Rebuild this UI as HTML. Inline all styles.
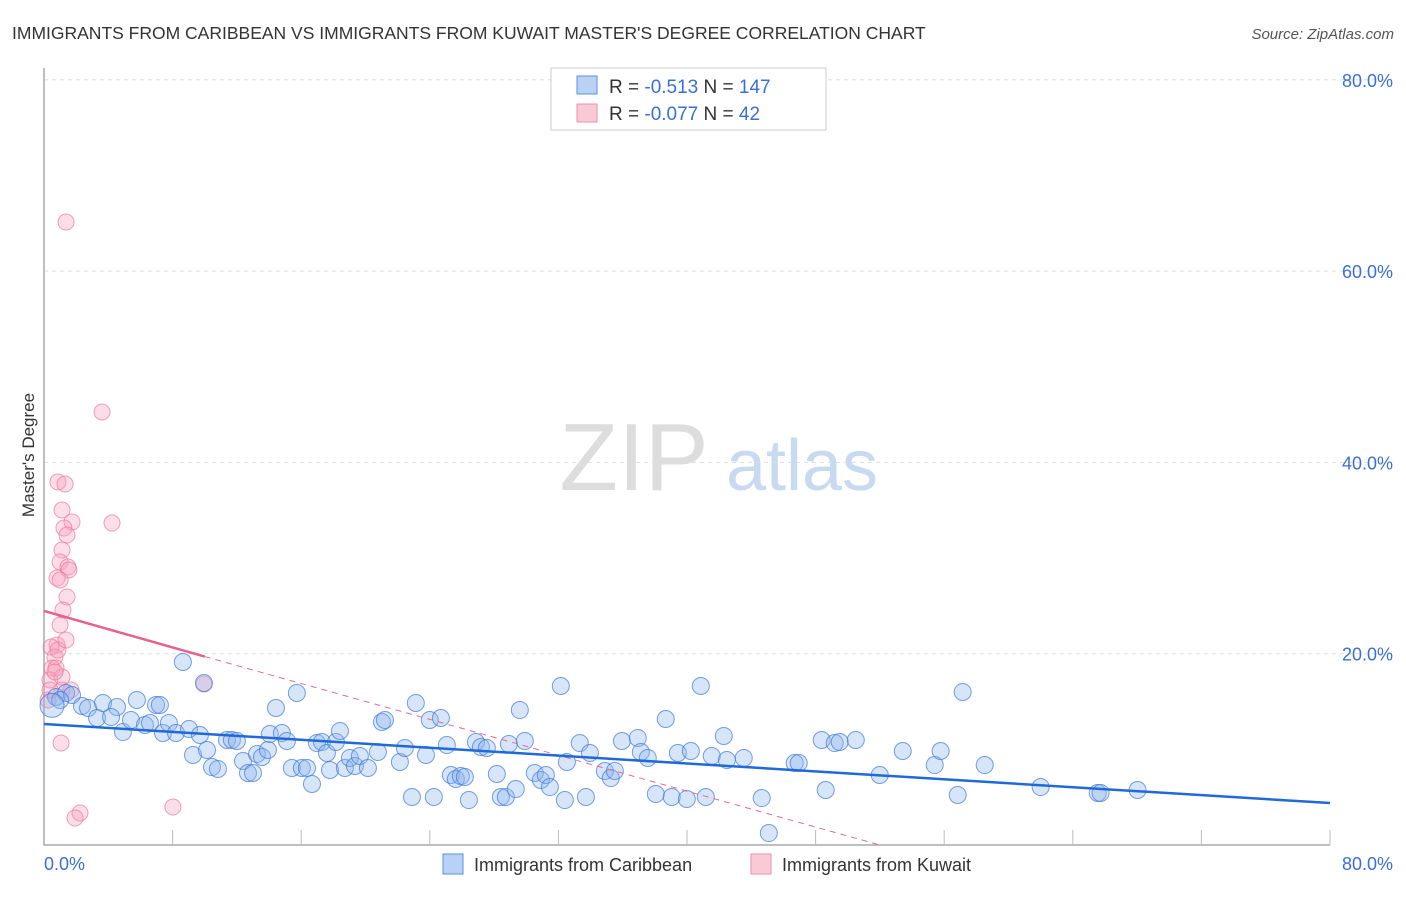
<!DOCTYPE html>
<html><head><meta charset="utf-8"><style>
body{margin:0;background:#fff;font-family:"Liberation Sans",sans-serif}
svg text{font-family:"Liberation Sans",sans-serif}
</style></head><body>
<svg id="chart" width="1406" height="892" viewBox="0 0 1406 892" xmlns="http://www.w3.org/2000/svg">
<text x="12" y="39" font-size="17.5" fill="#333">IMMIGRANTS FROM CARIBBEAN VS IMMIGRANTS FROM KUWAIT MASTER'S DEGREE CORRELATION CHART</text>
<text x="1394" y="39" font-size="15" fill="#555" font-style="italic" text-anchor="end">Source: ZipAtlas.com</text>
<g>
<text x="634" y="490" font-size="96" fill="#ddd" font-family="Liberation Serif,serif" text-anchor="middle">ZIP</text>
<text x="802" y="490" font-size="72" fill="#c8d9f2" text-anchor="middle">atlas</text>
</g>
<g id="grid"></g>
<g id="axes"></g>
<text transform="translate(34,455) rotate(-90)" font-size="17" fill="#333" text-anchor="middle">Master's Degree</text>
<g id="marks"></g>
<g>
<rect x="551" y="68" width="275" height="62" fill="#fff" stroke="#ccc"/>
<rect x="577" y="76" width="20" height="18" fill="#b9d1f5" stroke="#5b8fe0"/>
<rect x="577" y="104" width="20" height="18" fill="#f9c9d6" stroke="#ef8fab"/>
<text x="609" y="93" font-size="19" fill="#333">R = <tspan fill="#3a6fd8">-0.513</tspan>   N = <tspan fill="#3a6fd8">147</tspan></text>
<text x="609" y="120" font-size="19" fill="#333">R = <tspan fill="#3a6fd8">-0.077</tspan>   N = <tspan fill="#3a6fd8"> 42</tspan></text>
</g>
<g>
<rect x="443" y="854" width="20" height="20" fill="#b9d1f5" stroke="#5b8fe0"/>
<text x="474" y="871" font-size="18" fill="#333">Immigrants from Caribbean</text>
<rect x="751" y="854" width="20" height="20" fill="#f9c9d6" stroke="#ef8fab"/>
<text x="782" y="871" font-size="18" fill="#333">Immigrants from Kuwait</text>
</g>
</svg>
<script>
const blueX=[8.64,9.95,0.75,1.37,1.74,1.0,2.36,2.74,3.3,3.67,4.54,4.17,4.91,5.41,5.78,6.28,6.59,6.97,7.21,7.4,7.77,8.21,9.02,9.27,9.7,10.14,10.45,10.82,11.38,11.69,12.0,12.38,12.69,13.0,13.25,13.56,13.93,14.05,14.43,14.8,15.11,15.42,15.73,16.04,16.36,16.67,16.98,17.29,17.6,17.79,18.16,18.41,18.72,19.03,19.34,19.65,20.15,20.77,21.02,21.21,22.14,22.45,22.89,23.13,23.76,24.0,24.25,24.69,25.06,25.31,25.62,25.93,26.18,26.43,26.87,27.18,27.55,28.17,28.42,28.73,28.92,29.35,29.6,29.91,30.53,30.91,31.22,31.47,32.15,32.4,32.53,33.33,33.71,33.96,34.89,35.26,35.51,35.95,36.94,37.13,37.56,38.06,38.68,39.05,39.43,39.99,40.24,40.86,41.17,41.54,42.29,42.48,43.53,44.65,45.09,46.7,46.95,48.38,48.63,49.19,49.5,50.5,51.99,53.42,55.41,55.78,56.84,57.15,58.52,62.0,65.55,65.73,68.03,0.5];
const blueY=[19.13,16.94,15.47,15.89,15.68,15.16,14.53,14.32,13.28,14.85,14.43,13.38,11.81,13.07,15.16,12.55,12.75,14.64,14.64,11.71,12.75,11.71,12.13,9.41,11.5,9.93,8.15,7.95,10.98,10.98,10.87,8.78,7.53,7.53,9.51,9.2,9.93,11.6,14.32,11.71,10.87,8.05,15.89,8.05,8.05,6.38,10.66,10.77,9.62,7.84,10.77,11.92,8.05,9.1,8.26,9.3,8.05,9.72,12.86,13.07,8.68,10.14,5.02,14.85,9.41,13.07,5.02,13.28,10.45,7.32,6.9,7.21,7.11,4.7,10.77,10.25,10.14,7.42,5.02,5.02,10.56,5.85,14.11,10.87,7.53,6.8,7.32,6.06,16.62,4.7,8.68,10.66,5.02,9.62,7.74,7.0,7.74,10.87,11.19,9.72,9.1,5.33,13.17,5.02,9.62,4.81,9.83,16.62,5.02,9.3,11.4,8.89,9.1,4.91,1.25,8.57,8.57,10.98,5.75,10.66,10.77,10.98,7.32,9.83,8.36,9.83,5.23,16.0,8.36,6.06,5.44,5.44,5.75,14.6];
const pinkX=[1.37,3.61,0.87,1.31,4.23,1.12,1.74,1.24,1.43,1.12,1.0,1.49,1.55,0.81,1.0,1.43,1.18,1.0,0.81,0.44,0.68,0.87,0.5,0.75,0.37,1.12,0.25,0.68,1.12,0.37,1.68,9.95,1.06,2.24,1.93,8.02,1.37];
const pinkY=[65.13,45.27,37.95,37.74,33.66,35.02,33.77,33.14,32.41,30.84,29.59,29.06,28.75,27.91,27.7,25.93,24.57,23.0,20.91,20.7,19.66,20.39,18.5,18.5,17.25,17.56,15.16,18.09,16.2,16.2,16.2,16.83,10.66,3.35,2.82,3.97,21.43];
const blueTrend=[12.65,4.39];
const pinkTrend=[24.47,19.7,10,52];
const yTicks=[20,40,60,80];
const xTickLabels=["0.0%","80.0%"];
const NS="http://www.w3.org/2000/svg";
const X=v=>44+v*16.075, Y=v=>845-v*9.565;
function mk(t,a,p){const e=document.createElementNS(NS,t);for(const k in a)e.setAttribute(k,a[k]);p.appendChild(e);return e;}
const grid=document.getElementById('grid'),axes=document.getElementById('axes'),marks=document.getElementById('marks');
yTicks.forEach(v=>{
 const l=mk('line',{x1:44,x2:1392,y1:Y(v),y2:Y(v),stroke:'#ddd','stroke-dasharray':'4,4'},grid);
 
 
 const t=mk('text',{x:1393,y:Y(v)+7,'font-size':18,fill:'#3a6fd8','text-anchor':'end'},axes);
 t.textContent=v.toFixed(1)+'%';
 
 
});
const ax=mk('path',{d:'M44 68 V845 H1330',stroke:'#aaa',fill:'none','stroke-width':1.5},axes);


for(let i=1;i<=10;i++){const t=mk('line',{x1:X(i*8),x2:X(i*8),y1:830,y2:845,stroke:'#bbb'},axes);
 
 }
const xl0=mk('text',{x:44,y:870,'font-size':18,fill:'#3a6fd8'},axes);xl0.textContent=xTickLabels[0];


const xl1=mk('text',{x:1393,y:870,'font-size':18,fill:'#3a6fd8','text-anchor':'end'},axes);xl1.textContent=xTickLabels[1];


pinkX.forEach((x,i)=>{const c=mk('circle',{cx:X(x),cy:Y(pinkY[i]),r:8,fill:'rgba(246,160,188,0.35)',stroke:'rgba(236,120,155,0.7)','stroke-width':1},marks);
 
 });
blueX.forEach((x,i)=>{const c=mk('circle',{cx:X(x),cy:Y(blueY[i]),r:i===blueX.length-1?12:8.5,fill:'rgba(140,180,238,0.35)',stroke:'rgba(60,120,215,0.7)','stroke-width':1},marks);
 
 });
const pd=mk('line',{x1:X(pinkTrend[2]),y1:Y(pinkTrend[1]),x2:X(pinkTrend[3]),y2:Y(0),stroke:'#e86a93','stroke-width':1,'stroke-dasharray':'6,5'},marks);


const pl=mk('line',{x1:X(0),y1:Y(pinkTrend[0]),x2:X(pinkTrend[2]),y2:Y(pinkTrend[1]),stroke:'#e8608c','stroke-width':2.5},marks);


const bl=mk('line',{x1:X(0),y1:Y(blueTrend[0]),x2:X(80),y2:Y(blueTrend[1]),stroke:'#1f6ad8','stroke-width':2.5},marks);


</script>
</body></html>
